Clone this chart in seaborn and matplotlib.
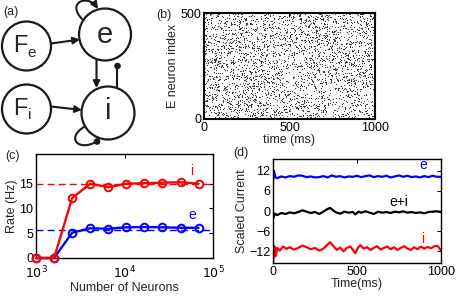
import numpy as np
import pandas as pd
import matplotlib
matplotlib.use("Agg")
import matplotlib.pyplot as plt
import seaborn as sns
from matplotlib.patches import Circle, FancyArrowPatch
from matplotlib.path import Path

sns.set_theme(style="white")
plt.rcParams['font.family'] = ['Liberation Sans', 'DejaVu Sans']
plt.rcParams['axes.unicode_minus'] = True

# ---------------- data ----------------
# panel (c)
n_neurons = [1000, 1600, 2560, 4096, 6554, 10486, 16777, 26844, 42950, 68719]
rate_i = [0, 0, 12.1, 15.0, 14.3, 15.0, 15.1, 15.2, 15.3, 15.0]
rate_e = [0, 0, 5.1, 6.0, 5.9, 6.2, 6.25, 6.2, 6.1, 6.1]
theory_i = 15.0
theory_e = 5.75

# panel (d)
t_e = [0, 5, 15, 25, 50, 75, 100, 125, 150, 175, 200, 225, 250, 275, 300, 325, 350,
       375, 400, 425, 450, 475, 500, 525, 550, 575, 600, 625, 650, 675, 700, 725,
       750, 775, 800, 825, 850, 875, 900, 925, 950, 975, 1000]
cur_e = [8.5, 12.0, 10.0, 9.8, 10.3, 10.0, 10.4, 10.2, 10.6, 10.5, 10.1, 10.3, 10.0,
         10.1, 10.4, 10.0, 10.6, 10.2, 10.4, 10.0, 10.3, 10.2, 10.5, 10.1, 10.4, 10.6,
         10.1, 10.4, 10.2, 10.5, 10.0, 10.3, 10.6, 10.2, 10.5, 10.1, 10.3, 10.0, 10.4,
         10.1, 10.5, 10.2, 10.2]
t_sum = [0, 10, 25, 50, 75, 100, 125, 150, 175, 200, 225, 250, 275, 300, 325, 340,
         360, 375, 400, 425, 450, 475, 490, 510, 525, 550, 575, 600, 625, 650, 675,
         700, 725, 750, 775, 800, 825, 850, 875, 900, 925, 950, 975, 1000]
cur_sum = [-2.5, -0.8, -1.2, -0.6, -0.9, -0.4, -0.7, -0.3, 0.2, -0.2, -0.6, -0.3, -0.9,
           -0.2, 0.6, 0.9, 0.1, -0.4, -0.8, -0.2, -0.5, -0.3, -1.0, -0.2, -0.5, -0.1,
           -0.5, -0.9, -0.2, -0.5, -0.3, -0.6, -0.2, -0.4, -0.1, -0.5, -0.3, -0.6, -0.4,
           -0.7, -0.3, -0.2, -0.1, -0.3]
t_i = [0, 8, 15, 25, 40, 60, 80, 100, 125, 150, 175, 200, 225, 250, 275, 300, 325, 340,
       360, 380, 400, 420, 440, 460, 475, 490, 505, 520, 540, 560, 580, 600, 620, 640,
       660, 680, 700, 720, 740, 760, 780, 800, 820, 840, 860, 880, 900, 920, 940, 960,
       980, 1000]
cur_i = [-16.0, -10.5, -13.5, -11.0, -11.8, -10.6, -11.3, -10.8, -11.5, -11.0, -10.3,
         -10.8, -11.4, -11.0, -11.8, -11.2, -10.0, -9.3, -10.5, -11.6, -10.9, -12.0,
         -11.0, -10.6, -11.5, -12.6, -11.0, -10.2, -11.2, -10.8, -11.6, -11.0, -10.5,
         -11.5, -11.0, -10.6, -11.4, -10.8, -11.6, -11.0, -10.5, -11.2, -11.6, -10.8,
         -11.4, -10.6, -11.2, -10.7, -11.1, -10.5, -10.4, -11.8]

# panel (b): spike raster (stochastic texture; individual spikes are not readable)
n_exc = 500
mean_rate_hz = 6.0
rng = np.random.default_rng(7)
counts = rng.poisson(mean_rate_hz, n_exc)
spike_neuron = np.repeat(np.arange(n_exc), counts)
spike_time = rng.uniform(0, 1000, counts.sum())
raster = pd.DataFrame({"time": spike_time, "neuron": spike_neuron})

# ---------------- layout ----------------
W, H = 464, 296
fig = plt.figure(figsize=(W / 100, H / 100), dpi=100)
FS = 9


def ax_px(l, t, r, b):
    return fig.add_axes([l / W, 1 - b / H, (r - l) / W, (b - t) / H])


def matlab_style(ax, lw=1.0):
    ax.tick_params(direction='in', top=True, right=True, length=3, width=0.8,
                   labelsize=FS, pad=2, colors='black')
    for s in ax.spines.values():
        s.set_color('black')
        s.set_linewidth(lw)
        s.set_visible(True)
    ax.set_facecolor('white')


# ---- panel (a): diagram in pixel coordinates ----
axa = fig.add_axes([0, 0, 1, 1])
axa.set_xlim(0, W)
axa.set_ylim(H, 0)
axa.axis('off')
axa.patch.set_alpha(0)

circ_kw = dict(facecolor='white', edgecolor='#1a1a1a', lw=1.6, zorder=3)
for (cx, cy, r) in [(26.5, 46, 24.5), (105, 34.5, 26), (26.5, 109, 24.5), (108, 113, 26.5)]:
    axa.add_patch(Circle((cx, cy), r, **circ_kw))

axa.text(20, 46, 'F', fontsize=17, ha='center', va='center', zorder=4)
axa.text(32, 53, 'e', fontsize=11, ha='center', va='center', zorder=4)
axa.text(20, 109, 'F', fontsize=17, ha='center', va='center', zorder=4)
axa.text(30, 115, 'i', fontsize=11, ha='center', va='center', zorder=4)
axa.text(105, 35, 'e', fontsize=21, ha='center', va='center', zorder=4)
axa.text(108, 111, 'i', fontsize=21, ha='center', va='center', zorder=4)

arr_kw = dict(arrowstyle='-|>', mutation_scale=10, lw=1.5, color='#1a1a1a', zorder=2,
              shrinkA=0, shrinkB=0)
axa.add_patch(FancyArrowPatch((51, 43.5), (80, 39.5), **arr_kw))
axa.add_patch(FancyArrowPatch((51, 106.5), (82, 110), **arr_kw))
axa.add_patch(FancyArrowPatch((96.5, 58), (96.5, 88), **arr_kw))
# inhibitory i -> e
axa.plot([117.5, 117.5], [88, 66], color='#1a1a1a', lw=1.5, zorder=2)
axa.add_patch(Circle((117.5, 66), 2.6, color='#1a1a1a', zorder=5))
# e self loop
p = Path([(82, 19), (66, 2), (88, -6), (98, 9)],
         [Path.MOVETO, Path.CURVE4, Path.CURVE4, Path.CURVE4])
axa.add_patch(FancyArrowPatch(path=p, **arr_kw))
# i self loop (inhibitory)
p2 = Path([(84, 127), (66, 138), (78, 152), (97, 141.5)],
          [Path.MOVETO, Path.CURVE4, Path.CURVE4, Path.CURVE4])
axa.add_patch(FancyArrowPatch(path=p2, arrowstyle='-', lw=1.5, color='#1a1a1a', zorder=2))
axa.add_patch(Circle((97, 141.5), 2.6, color='#1a1a1a', zorder=5))

# panel labels
for lab, x, y in [('(a)', 3, 12), ('(b)', 156, 15), ('(c)', 5, 156), ('(d)', 233, 153)]:
    fig.text(x / W, 1 - y / H, lab, fontsize=FS, ha='left', va='center')

# ---- panel (b): raster ----
axb = ax_px(204, 13, 375, 119)
sns.scatterplot(data=raster, x='time', y='neuron', ax=axb, s=0.3, marker='o',
                color='#333333', edgecolor='#333333', linewidth=0.3, legend=False)
axb.set_xlim(0, 1000)
axb.set_ylim(0, 500)
axb.set_xticks([0, 500, 1000])
axb.set_yticks([0, 500])
axb.set_xlabel('time (ms)', fontsize=FS, labelpad=0)
axb.set_ylabel('E neuron index', fontsize=FS, labelpad=1)
matlab_style(axb, lw=1.5)

# ---- panel (c): rates ----
axc = ax_px(36, 154, 213, 258)
axc.axhline(theory_i, color='red', ls='--', lw=1.0, dashes=(5, 3), zorder=1)
axc.axhline(theory_e, color='blue', ls='--', lw=1.0, dashes=(5, 3), zorder=1)
line_kw = dict(marker='o', markersize=5.5, markerfacecolor='none', markeredgewidth=1.4,
               lw=1.7, clip_on=False)
sns.lineplot(x=n_neurons, y=rate_e, ax=axc, color='blue', markeredgecolor='blue',
             zorder=3, **line_kw)
sns.lineplot(x=n_neurons, y=rate_i, ax=axc, color='red', markeredgecolor='red',
             zorder=4, **line_kw)
axc.set_xscale('log')
axc.set_xlim(1000, 1e5)
axc.set_ylim(0, 21)
axc.set_xticks([1e3, 1e4, 1e5])
axc.set_xticklabels([r'$10^3$', r'$10^4$', r'$10^5$'])
axc.minorticks_off()
axc.set_yticks([0, 5, 10, 15])
axc.set_xlabel('Number of Neurons', fontsize=FS, labelpad=0)
axc.set_ylabel('Rate (Hz)', fontsize=FS, labelpad=1)
axc.text(10 ** 4.76, 17.6, 'i', color='red', fontsize=FS + 1, ha='center', va='center')
axc.text(10 ** 4.76, 8.6, 'e', color='blue', fontsize=FS + 1, ha='center', va='center')
matlab_style(axc)
axc.tick_params(axis='x', pad=5)

# ---- panel (d): currents ----
axd = ax_px(273, 159, 441, 263)
sns.lineplot(x=t_e, y=cur_e, ax=axd, color='blue', lw=1.6, estimator=None)
sns.lineplot(x=t_sum, y=cur_sum, ax=axd, color='black', lw=1.6, estimator=None)
sns.lineplot(x=t_i, y=cur_i, ax=axd, color='red', lw=1.6, estimator=None)
axd.set_xlim(0, 1000)
axd.set_ylim(-15.5, 15.5)
axd.set_xticks([0, 500, 1000])
axd.set_yticks([-12, -6, 0, 6, 12])
axd.set_xlabel('Time(ms)', fontsize=FS, labelpad=0)
axd.set_ylabel('Scaled Current', fontsize=FS, labelpad=1)
axd.text(893, 13.6, 'e', color='blue', fontsize=FS + 1, ha='center', va='center')
axd.text(750, 2.8, 'e+i', color='black', fontsize=FS + 1, ha='center', va='center')
axd.text(893, -8.3, 'i', color='red', fontsize=FS + 1, ha='center', va='center')
matlab_style(axd)

fig.savefig('out.png', dpi=100)
